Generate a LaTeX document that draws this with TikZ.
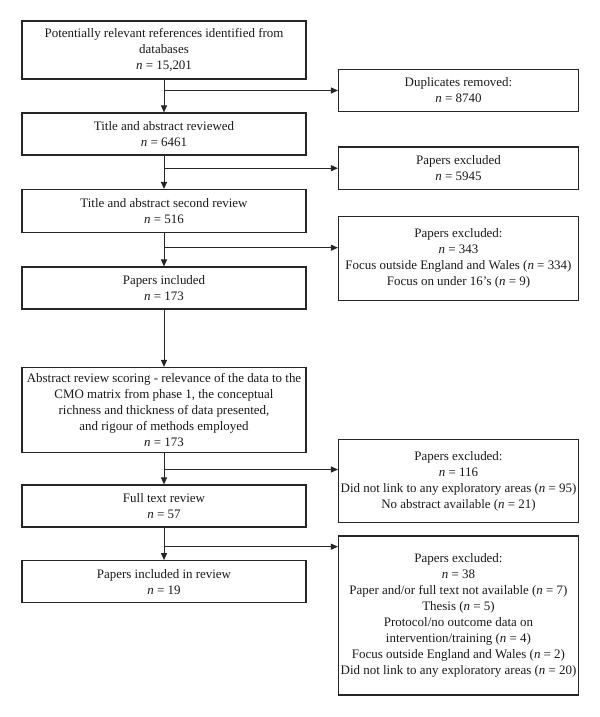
\documentclass[tikz,border=0pt]{standalone}
\usepackage{fontspec}
\setmainfont{Liberation Serif}
\usetikzlibrary{arrows.meta}
\newcommand{\nn}{\textit{n}}
\begin{document}
\begin{tikzpicture}[x=1bp,y=-1bp,
  box/.style={draw=black!85, line width=1.1bp, align=center, inner sep=0pt,
    font=\fontsize{13}{16}\selectfont, text=black!90},
  lbox/.style={box, minimum width=284bp},
  rbox/.style={box, minimum width=240bp},
  arr/.style={draw=black!85, line width=1bp, -{Triangle[length=7bp,width=6bp]}},
  ln/.style={draw=black!85, line width=1bp}]
\useasboundingbox (0,0) rectangle (600,717);
% left column
\node[lbox, minimum height=58bp] (b1) at (164,50) {Potentially relevant references identified from\\ databases\\ \nn{} = 15,201};
\node[lbox, minimum height=42bp] (b2) at (164,134) {Title and abstract reviewed\\ \nn{} = 6461};
\node[lbox, minimum height=43bp] (b3) at (164,211) {Title and abstract second review\\ \nn{} = 516};
\node[lbox, minimum height=42bp] (b4) at (164,288) {Papers included\\ \nn{} = 173};
\node[lbox, minimum height=85bp] (b5) at (164,410) {Abstract review scoring - relevance of the data to the\\ CMO matrix from phase 1, the conceptual\\ richness and thickness of data presented,\\ and rigour of methods employed\\ \nn{} = 173};
\node[lbox, minimum height=42bp] (b6) at (164,506) {Full text review\\ \nn{} = 57};
\node[lbox, minimum height=42bp] (b7) at (164,581.7) {Papers included in review\\ \nn{} = 19};
% right column
\node[rbox, minimum height=42.4bp] (r1) at (458.5,90.5) {Duplicates removed:\\ \nn{} = 8740};
\node[rbox, minimum height=42.3bp] (r2) at (458.5,168.2) {Papers excluded\\ \nn{} = 5945};
\node[rbox, minimum height=84bp] (r3) at (458.5,258.7) {Papers excluded:\\ \nn{} = 343\\ Focus outside England and Wales (\nn{} = 334)\\ Focus on under 16’s (\nn{} = 9)};
\node[rbox, minimum height=83.4bp] (r4) at (458.5,481) {Papers excluded:\\ \nn{} = 116\\ Did not link to any exploratory areas (\nn{} = 95)\\ No abstract available (\nn{} = 21)};
\node[rbox, minimum height=159bp] (r5) at (458.5,615.5) {Papers excluded:\\ \nn{} = 38\\ Paper and/or full text not available (\nn{} = 7)\\ Thesis (\nn{} = 5)\\ Protocol/no outcome data on\\ intervention/training (\nn{} = 4)\\ Focus outside England and Wales (\nn{} = 2)\\ Did not link to any exploratory areas (\nn{} = 20)};
% vertical flow
\draw[arr] (b1.south) -- (b2.north);
\draw[arr] (b2.south) -- (b3.north);
\draw[arr] (b3.south) -- (b4.north);
\draw[arr] (b4.south) -- (b5.north);
\draw[arr] (b5.south) -- (b6.north);
\draw[arr] (b6.south) -- (b7.north);
% branches
\coordinate (j1) at (b1.south |- r1.west);
\coordinate (j2) at (b2.south |- r2.west);
\coordinate (j3) at (164,247.7);
\coordinate (j4) at (164,469.5);
\coordinate (j5) at (164,546.7);
\draw[arr] (j1) -- (r1.west);
\draw[arr] (j2) -- (r2.west);
\draw[arr] (j3) -- (j3 -| r3.west);
\draw[arr] (j4) -- (j4 -| r4.west);
\draw[arr] (j5) -- (j5 -| r5.west);
\end{tikzpicture}
\end{document}
